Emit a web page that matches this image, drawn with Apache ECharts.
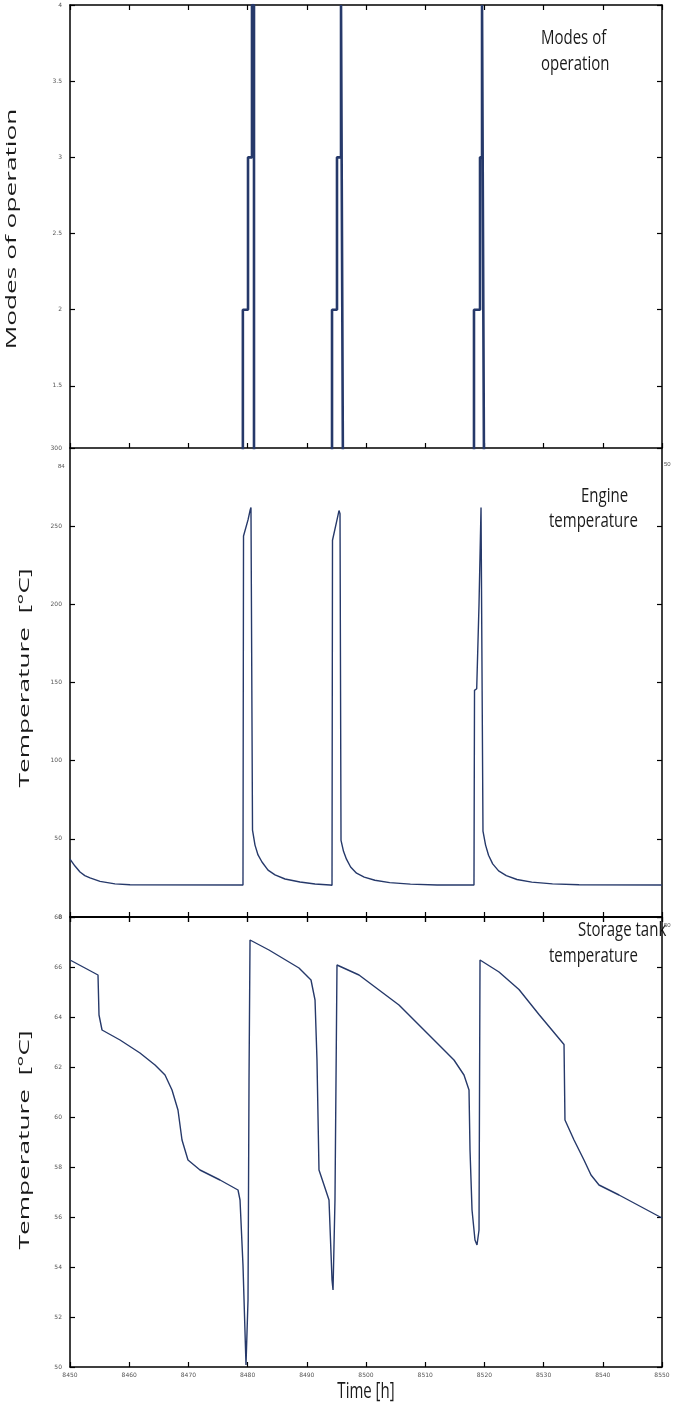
<!DOCTYPE html>
<html><head><meta charset="utf-8">
<script src="https://cdn.jsdelivr.net/npm/echarts@6/dist/echarts.min.js"></script>
<style>html,body{margin:0;padding:0;background:#fff}#c{width:675px;height:1411px}</style>
</head><body><div id="c"></div>
<script>
// ---- data ----
const xTickValues = [8450,8460,8470,8480,8490,8500,8510,8520,8530,8540,8550];
const modeTicks = [1.5,2,2.5,3,3.5,4];
const engineTicks = [0,50,100,150,200,250,300];
const tankTicks = [50,52,54,56,58,60,62,64,66,68];

const modeTime = [8450,8479.2,8479.2,8480.07,8480.07,8480.4,8480.4,8480.74,8480.74,8481.08,8481.08,
  8494.26,8494.26,8495.1,8495.1,8495.44,8495.44,8495.78,8495.78,8496.1,8496.1,
  8518.24,8518.24,8519.26,8519.26,8519.43,8519.43,8519.6,8519.6,8519.93,8519.93,8550];
const modeValue = [1,1,2,2,3,3,3.0,3.0,4,4,1,
  1,2,2,3,3,3,3,4,4,1,
  1,2,2,3,3,3,3,4,4,1,1];

const engineTime = [8450,8450.84,8451.69,8452.5,8453.38,8455.07,8457.6,8460.14,8479.22,8479.31,8480.07,8480.41,8480.57,8480.83,
  8481.25,8481.76,8482.43,8483.45,8484.63,8486.32,8488.85,8491.39,8493.92,8494.26,
  8494.34,8495.1,8495.44,8495.61,8495.78,8496.2,8496.7,8497.4,8498.4,8499.7,8501.5,8504.0,8507.5,8512,8518.24,
  8518.33,8518.7,8519.09,8519.43,8519.76,8520.2,8520.7,8521.4,8522.4,8523.7,8525.5,8528,8531.5,8536,8550];
const engineValue = [37,32.6,28.8,26.5,25,22.8,21.2,20.6,20.5,243.7,254,260,262,55.6,
  46,39.7,35.2,30,26.9,24.3,22.4,21.1,20.5,20.3,
  241,254,260,258,49,42,37,32,28,25.5,23.5,22,21,20.5,20.5,
  145,146,200,262,55,46,39.5,34,29.5,26.5,24,22.3,21.2,20.6,20.5];

const tankTime = [8450,8452.53,8454.73,8454.9,8455.41,8458.45,8461.82,8464.36,8466.05,8467.23,8468.24,8468.92,8469.93,8471.96,8475.34,8478.38,8478.72,8479.22,8479.73,8479.9,8480.07,8480.24,8480.41,
  8483.61,8488.68,8490.71,8491.39,8491.72,8492.06,8492.91,8493.75,8494.26,8494.43,8494.76,8495.1,8498.82,8505.57,8510.64,8514.86,8516.55,8517.4,8517.57,8517.91,8518.41,8518.75,8519.09,8519.26,
  8522.47,8525.84,8529.22,8533.45,8533.61,8535.14,8536.82,8538.01,8539.36,8542.74,8550];
const tankValue = [66.28,65.96,65.68,64.08,63.48,63.08,62.56,62.08,61.68,61.08,60.28,59.08,58.28,57.88,57.48,57.08,56.68,54.08,50.08,50,52.68,61.48,67.08,
  66.68,65.96,65.48,64.68,62.28,57.88,57.28,56.68,53.48,53.08,56.68,66.08,65.68,64.48,63.28,62.28,61.68,61.08,58.68,56.28,55.08,54.88,55.48,66.28,
  65.8,65.1,64.1,62.9,59.88,59.08,58.28,57.68,57.28,56.88,55.96];

// ---- chart ----
const zip = (a,b)=>a.map((t,i)=>[t,b[i]]);
const LC = '#26396a';
const tickFont = {fontSize:6,color:'#555',fontFamily:'DejaVu Sans'};
const grids = [
  {left:70,right:13,top:5,height:443},
  {left:70,right:13,top:448,height:469},
  {left:70,right:13,top:917,height:450}
];
const axLine = {show:true,lineStyle:{color:'#000',width:1.5}};
const tick = {show:true,inside:true,length:5,lineStyle:{color:'#000',width:1.2}};
const xAxis = [], yAxis = [];
grids.forEach((g,i)=>{
  xAxis.push({type:'value',gridIndex:i,min:xTickValues[0],max:xTickValues[xTickValues.length-1],interval:10,position:'bottom',
    axisLine:axLine,axisTick:{...tick,customValues:xTickValues},splitLine:{show:false},
    axisLabel:{show:i===2,...tickFont,margin:5,customValues:xTickValues,formatter:v=>String(v)}});
  xAxis.push({type:'value',gridIndex:i,min:xTickValues[0],max:xTickValues[xTickValues.length-1],interval:10,position:'top',
    axisLine:axLine,axisTick:{...tick,customValues:xTickValues},splitLine:{show:false},axisLabel:{show:false}});
});
const yDefs = [
  {min:1.092,max:4,ticks:modeTicks},
  {min:0,max:300,ticks:engineTicks},
  {min:50,max:68,ticks:tankTicks}
];
yDefs.forEach((d,i)=>{
  yAxis.push({type:'value',gridIndex:i,min:d.min,max:d.max,position:'left',
    axisLine:axLine,splitLine:{show:false},
    axisTick:{...tick,customValues:d.ticks},
    axisLabel:{...tickFont,margin:8,customValues:d.ticks,formatter:v=>String(v)}});
  yAxis.push({type:'value',gridIndex:i,min:d.min,max:d.max,position:'right',
    axisLine:axLine,splitLine:{show:false},
    axisTick:{...tick,customValues:d.ticks},
    axisLabel:{show:false}});
});
const series = [
  {type:'line',xAxisIndex:0,yAxisIndex:0,data:zip(modeTime,modeValue),showSymbol:false,
   lineStyle:{color:LC,width:2.6},clip:true,animation:false},
  {type:'line',xAxisIndex:2,yAxisIndex:2,data:zip(engineTime,engineValue),showSymbol:false,
   lineStyle:{color:LC,width:1.4},clip:true,animation:false},
  {type:'line',xAxisIndex:4,yAxisIndex:4,data:zip(tankTime,tankValue),showSymbol:false,
   lineStyle:{color:LC,width:1.4},clip:true,animation:false}
];
const tf = {fontFamily:'Open Sans',fontSize:15,fill:'#1a1a1a'};
function vtext(txt,x,yc){
  return {type:'text',x:x,y:yc,rotation:Math.PI/2,scaleX:1.75,
    style:{text:txt,...tf,textAlign:'center',textVerticalAlign:'top'}};
}
function htext(txt,x,y){
  return {type:'text',x:x,y:y,scaleY:1.35,style:{text:txt,...tf}};
}
const chart = echarts.init(document.getElementById('c'),null,{renderer:'canvas'});
chart.setOption({
  animation:false,
  grid:grids,xAxis,yAxis,series,
  graphic:[
    vtext('Modes of operation',4,229),
    vtext('Temperature  [°C]',17,678),
    vtext('Temperature  [°C]',17,1140),
    {type:'text',x:366,y:1382,scaleY:1.4,style:{text:'Time [h]',...tf,textAlign:'center'}},
    htext('Modes of',541,28),
    htext('operation',541,54),
    htext('Engine',581,486),
    htext('temperature',549,511),
    htext('Storage tank',578,920),
    htext('temperature',549,946),
    {type:'text',x:664,y:461,style:{text:'50',fontSize:6,fill:'#555'}},
    {type:'text',x:664,y:922,style:{text:'50',fontSize:6,fill:'#555'}},
    {type:'text',x:58,y:463,style:{text:'84',fontSize:6,fill:'#555'}}
  ]
});
</script></body></html>
